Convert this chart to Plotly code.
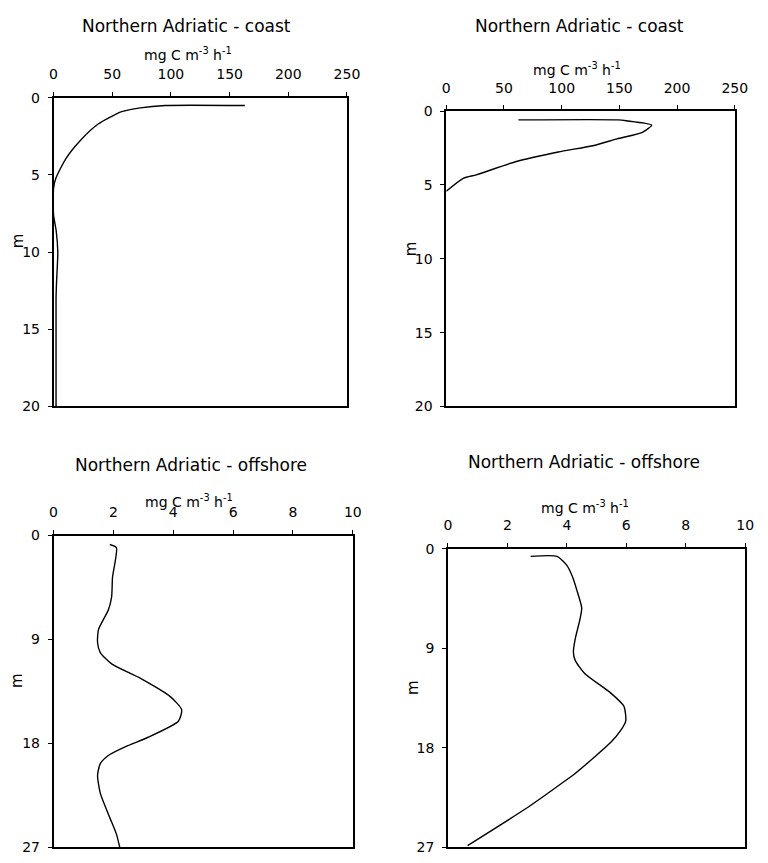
import plotly.graph_objects as go

# ---------------- data ----------------
# Panel 1: Northern Adriatic - coast (left)
coast1_depth = [0.5, 0.5, 0.65, 0.9, 1.7, 2.67, 3.94, 5.2, 5.85, 7.6, 8.6, 10.0, 12.0, 13.0, 20.0]
coast1_prod = [163, 95, 74, 58, 38, 24, 10.5, 2, 0, 0, 2.2, 3.6, 2.5, 2.1, 2.1]

# Panel 2: Northern Adriatic - coast (right)
coast2_depth = [0.6, 0.6, 0.66, 0.95, 1.44, 1.88, 2.33, 2.77, 3.43, 4.32, 4.54, 5.43]
coast2_prod = [62.5, 149, 156, 178, 170, 148, 128, 97, 60, 26, 15, 0]

# Panel 3: Northern Adriatic - offshore (left)
off1_depth = [0.78, 1.06, 3.61, 5.31, 6.45, 8.15, 9.29, 10.14, 11.12, 12.40, 13.96, 15.09,
              16.09, 17.50, 18.21, 19.06, 19.77, 20.77, 22.32, 24.45, 25.87, 27.0]
off1_prod = [1.88, 2.10, 1.97, 1.94, 1.83, 1.50, 1.47, 1.56, 1.94, 2.92, 3.90, 4.28,
             4.17, 3.14, 2.48, 1.83, 1.56, 1.47, 1.56, 1.88, 2.10, 2.21]

# Panel 4: Northern Adriatic - offshore (right)
off2_depth = [0.69, 0.69, 1.5, 2.6, 3.7, 5.36, 6.39, 8.17, 9.36, 10.1, 11.28, 13.06, 14.25,
              15.59, 16.48, 17.51, 18.84, 20.33, 20.77, 23.3, 26.86]
off2_prod = [2.78, 3.67, 4.0, 4.2, 4.33, 4.5, 4.44, 4.28, 4.22, 4.28, 4.6, 5.48, 5.92,
             5.98, 5.8, 5.48, 4.93, 4.28, 4.06, 2.74, 0.66]

titles = ["Northern Adriatic - coast", "Northern Adriatic - coast",
          "Northern Adriatic - offshore", "Northern Adriatic - offshore"]
x_title = "mg C m<sup>-3</sup> h<sup>-1</sup>"
y_title = "m"
coast_xticks = [0, 50, 100, 150, 200, 250]
coast_yticks = [0, 5, 10, 15, 20]
off_xticks = [0, 2, 4, 6, 8, 10]
off_yticks = [0, 9, 18, 27]

# ---------------- layout ----------------
W, H = 768, 863
FONT = "DejaVu Sans"


def px(x):
    return x / W


def py(y):
    return 1 - y / H


# pixel boxes: (left, right, top, bottom)
boxes = [
    (50.7, 350.7, 91.5, 406.0),
    (452.3, 747.3, 105.0, 406.0),
    (50.7, 356.7, 537.5, 855.0),
    (454.0, 758.0, 551.0, 855.0),
]
series = [
    (coast1_prod, coast1_depth, coast_xticks, coast_yticks, 250, 20),
    (coast2_prod, coast2_depth, coast_xticks, coast_yticks, 250, 20),
    (off1_prod, off1_depth, off_xticks, off_yticks, 10, 27),
    (off2_prod, off2_depth, off_xticks, off_yticks, 10, 27),
]
# label positions (pixel): title, x-title, y-title
title_pos = [(187, 18), (589, 18), (191, 466), (593, 463)]
xtitle_pos = [(188, 47), (586, 62), (189, 502), (594, 508)]
ytitle_pos = [(14, 237), (417, 245), (14, 685), (418, 692)]

fig = go.Figure()
layout = dict(
    width=W, height=H, margin=dict(l=0, r=0, t=0, b=0),
    paper_bgcolor="white", plot_bgcolor="white", showlegend=False,
    font=dict(family=FONT, size=13, color="black"),
)
annotations = []

for i, ((l, r, t, b), (xv, yv, xt, yt, xmax, ymax)) in enumerate(zip(boxes, series)):
    n = i + 1
    xa = f"xaxis{n if n > 1 else ''}"
    ya = f"yaxis{n if n > 1 else ''}"
    xref = f"x{n if n > 1 else ''}"
    yref = f"y{n if n > 1 else ''}"
    # overlay x axis for inside ticks (cross ticks)
    ox = 4 + n
    oxa = f"xaxis{ox}"
    fig.add_trace(go.Scatter(
        x=xv, y=yv, mode="lines", xaxis=xref, yaxis=yref,
        line=dict(color="black", width=1.4, shape="spline", smoothing=0.6),
        hoverinfo="skip",
    ))
    layout[xa] = dict(
        domain=[px(l), px(r)], anchor=yref, side="top", range=[0, xmax],
        tickmode="array", tickvals=xt, ticktext=[str(v) for v in xt],
        ticks="outside", ticklen=4, tickwidth=1, tickcolor="black",
        showline=True, linecolor="black", linewidth=1.6, mirror=True,
        showgrid=False, zeroline=False, ticklabelstandoff=7,
        tickfont=dict(family=FONT, size=14, color="black"),
    )
    layout[oxa] = dict(
        domain=[px(l), px(r)], anchor=yref, side="top", range=[0, xmax],
        overlaying=xref, tickmode="array", tickvals=xt,
        ticks="inside", ticklen=4, tickwidth=1, tickcolor="black",
        showticklabels=False, showline=False, showgrid=False, zeroline=False,
    )
    layout[ya] = dict(
        domain=[py(b), py(t)], anchor=xref, range=[ymax, 0],
        tickmode="array", tickvals=yt, ticktext=[str(v) for v in yt],
        ticks="outside", ticklen=4, tickwidth=1, tickcolor="black",
        showline=True, linecolor="black", linewidth=1.6, mirror=True,
        showgrid=False, zeroline=False, ticklabelstandoff=5,
        tickfont=dict(family=FONT, size=14, color="black"),
    )
    tx, ty = title_pos[i]
    annotations.append(dict(text=titles[i], x=px(tx), y=py(ty), xref="paper", yref="paper",
                            showarrow=False, xanchor="center", yanchor="middle",
                            font=dict(family=FONT, size=17, color="black")))
    ax_, ay_ = xtitle_pos[i]
    annotations.append(dict(text=x_title, x=px(ax_), y=py(ay_), xref="paper", yref="paper",
                            showarrow=False, xanchor="center", yanchor="middle",
                            font=dict(family=FONT, size=14, color="black")))
    mx, my = ytitle_pos[i]
    annotations.append(dict(text=y_title, x=px(mx), y=py(my), xref="paper", yref="paper",
                            showarrow=False, xanchor="center", yanchor="middle", textangle=-90,
                            font=dict(family=FONT, size=15, color="black")))

layout["annotations"] = annotations
fig.update_layout(**layout)
fig.write_html("out.html")
